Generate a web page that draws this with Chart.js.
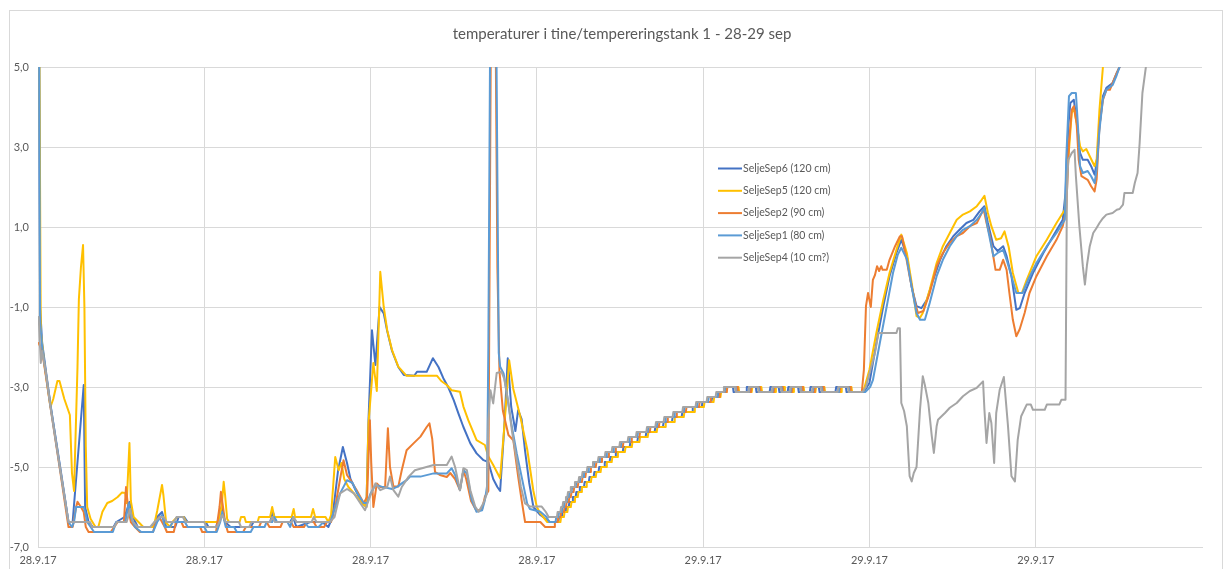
<!DOCTYPE html>
<html>
<head>
<meta charset="utf-8">
<script src="https://cdn.jsdelivr.net/npm/chart.js@4.4.1/dist/chart.umd.min.js"></script>
<style>
  html, body { margin: 0; padding: 0; background: #fff; }
  canvas { display: block; }
</style>
</head>
<body>
<canvas id="chart" width="1224" height="569"></canvas>
<script>
// Tank temperatures, 28.9.17 08:00 onwards. Each reading: [minutes since start, °C]
const xTickLabels = ['28.9.17', '28.9.17', '28.9.17', '28.9.17', '29.9.17', '29.9.17', '29.9.17'];
const seriesNames = ['SeljeSep6 (120 cm)', 'SeljeSep5 (120 cm)', 'SeljeSep2 (90 cm)', 'SeljeSep1 (80 cm)', 'SeljeSep4 (10 cm?)'];
const titleText = 'temperaturer i tine/tempereringstank 1 - 28-29 sep';

const sep6 = [[1,9],[3,-1],[6,-1.9],[18,-3.45],[32,-5],[44,-6.375],[50,-6.375],[66,-2.95],[68,-6],[73,-6.375],[79,-6.5],[109,-6.5],[113,-6.375],[125,-6.25],[132,-5.875],[137,-6.25],[144,-6.5],[165,-6.5],[172,-6.25],[179,-6.125],[185,-6.5],[198,-6.5],[203,-6.25],[211,-6.25],[216,-6.375],[242,-6.375],[246,-6.5],[257,-6.5],[265,-6],[270,-6.375],[278,-6.5],[307,-6.5],[311,-6.375],[335,-6.375],[339,-6.125],[344,-6.375],[364,-6.375],[368,-6.25],[373,-6.5],[393,-6.375],[410,-6.375],[419,-6.5],[425,-6.25],
[433,-5.1],[440,-4.5],[446,-4.9],[451,-5.3],[459,-5.6],[468,-5.9],[474,-6],[477,-3.83],[482,-1.58],[487,-2.45],[493,-1],[499,-1.16],[504,-1.6],[511,-2.1],[520,-2.5],[528,-2.7],[543,-2.72],[547,-2.62],[561,-2.62],[570,-2.28],[578,-2.5],[585,-2.78],[592,-3],[600,-3.33],[607,-3.67],[614,-4],[624,-4.41],[633,-4.66],[643,-4.83],[650,-4.88],[657,-5.3],[663,-5.5],[667,-5.6],[673,-4],[678,-2.28],[683,-3.5],[689,-4.1],[693,-3.58],[698,-3.8],[703,-4.6],[709,-5.4],[715,-6],[725,-6.2],[739,-6.375],
[751,-6.375],[752,-6.25],[756,-6.25],[757,-6.125],[761,-6.125],[762,-6],[766,-6],[767,-5.875],[771,-5.875],[772,-5.75],[776,-5.75],[777,-5.625],[781,-5.625],[782,-5.5],[788,-5.5],[789,-5.375],[795,-5.375],[796,-5.25],[802,-5.25],[803,-5.125],[809,-5.125],[810,-5],[817,-5],[818,-4.875],[825,-4.875],[826,-4.75],[833,-4.75],[834,-4.625],[844,-4.625],[845,-4.5],[854,-4.5],[855,-4.375],[865,-4.375],[866,-4.25],[877,-4.25],[878,-4.125],[890,-4.125],[891,-4],[902,-4],[903,-3.875],[915,-3.875],[916,-3.75],[929,-3.75],[930,-3.625],[944,-3.625],[945,-3.5],[958,-3.5],[959,-3.375],[972,-3.375],[973,-3.25],[982,-3.25],[983,-3.125],[990,-3.125],[991,-3],
[1003,-3],[1004,-3.125],[1022,-3.125],[1023,-3],[1036,-3],[1037,-3.125],[1056,-3.125],[1057,-3],[1069,-3],[1070,-3.125],[1082,-3.125],[1083,-3],[1097,-3],[1098,-3.125],[1114,-3.125],[1115,-3],[1127,-3],[1128,-3.125],[1151,-3.125],[1152,-3],[1166,-3],[1167,-3.125],[1192,-3.125],
[1200,-2.9],[1210,-1.9],[1220,-0.98],[1229,-0.23],[1239,0.35],[1246,0.68],[1254,0.27],[1261,-0.5],[1268,-0.98],[1275,-1.03],[1283,-0.82],[1292,-0.32],[1302,0.18],[1311,0.52],[1321,0.77],[1330,0.93],[1340,1.1],[1350,1.18],[1359,1.39],[1366,1.52],[1371,1.1],[1379,0.52],[1385,0.4],[1393,0.52],[1398,0.27],[1405,-0.23],[1412,-1.07],[1417,-1.03],[1424,-0.65],[1436,-0.15],[1451,0.35],[1465,0.77],[1479,1.18],[1483,1.85],[1487,3.52],[1490,4.1],[1495,4.18],[1499,3.68],[1504,2.85],[1508,2.68],[1515,2.68],[1520,2.52],[1525,2.31],[1528,2.6],[1532,3.52],[1537,4.27],[1542,4.48],[1551,4.6],[1557,4.85],[1561,5],[1568,5.6]];

const sep5 = [[1,9],[4,-1.6],[9,-2.4],[18,-3.5],[22,-3.3],[28,-2.85],[31,-2.85],[38,-3.3],[46,-3.7],[49,-5.15],[52,-5.6],[57,-2.5],[59,-0.8],[62,0],[65,0.55],[67,-1],[69,-4.5],[71,-6],[76,-6.3],[83,-6.5],[87,-6.5],[93,-6.12],[100,-5.9],[107,-5.85],[115,-5.75],[121,-5.64],[126,-5.65],[128,-5.9],[132,-4.4],[134,-5.85],[138,-6.25],[145,-6.375],[152,-6.5],[167,-6.5],[172,-6.1],[179,-5.45],[181,-5.7],[185,-6.4],[191,-6.5],[194,-6.375],[201,-6.25],[210,-6.25],[214,-6.375],[260,-6.375],[265,-6],[268,-5.37],[270,-5.7],[273,-6.3],[276,-6.375],[291,-6.375],[293,-6.25],[298,-6.25],[300,-6.375],[317,-6.375],[319,-6.25],[335,-6.25],[338,-6],[341,-6.25],[366,-6.25],[369,-6.05],[371,-6.25],[394,-6.25],[397,-6.05],[400,-6.25],[415,-6.25],[419,-6.375],[423,-6.2],
[429,-4.75],[434,-5.08],[438,-4.9],[442,-5.3],[448,-5.5],[458,-5.7],[468,-5.9],[474,-6],[477,-3.9],[484,-2.4],[489,-3.1],[494,-0.12],[499,-1],[504,-1.58],[511,-2.08],[520,-2.49],[532,-2.72],[576,-2.72],[582,-2.85],[590,-2.95],[597,-3.08],[609,-3.12],[614,-3.49],[621,-3.83],[633,-4.33],[645,-4.45],[650,-4.74],[657,-4.95],[667,-5.28],[673,-4],[680,-2.33],[686,-3.05],[696,-3.73],[706,-4.55],[715,-5.6],[720,-6],[725,-6.16],[735,-6.375],
[754,-6.375],[755,-6.25],[759,-6.25],[760,-6.125],[764,-6.125],[765,-6],[769,-6],[770,-5.875],[774,-5.875],[775,-5.75],[779,-5.75],[780,-5.625],[784,-5.625],[785,-5.5],[791,-5.5],[792,-5.375],[798,-5.375],[799,-5.25],[805,-5.25],[806,-5.125],[812,-5.125],[813,-5],[820,-5],[821,-4.875],[828,-4.875],[829,-4.75],[836,-4.75],[837,-4.625],[847,-4.625],[848,-4.5],[857,-4.5],[858,-4.375],[868,-4.375],[869,-4.25],[880,-4.25],[881,-4.125],[893,-4.125],[894,-4],[905,-4],[906,-3.875],[918,-3.875],[919,-3.75],[932,-3.75],[933,-3.625],[947,-3.625],[948,-3.5],[961,-3.5],[962,-3.375],[975,-3.375],[976,-3.25],[985,-3.25],[986,-3.125],[993,-3.125],[994,-3],
[1011,-3],[1012,-3.125],[1030,-3.125],[1031,-3],[1044,-3],[1045,-3.125],[1064,-3.125],[1065,-3],[1077,-3],[1078,-3.125],[1090,-3.125],[1091,-3],[1105,-3],[1106,-3.125],[1122,-3.125],[1123,-3],[1135,-3],[1136,-3.125],[1159,-3.125],[1160,-3],[1174,-3],[1175,-3.125],[1191,-3.125],
[1200,-2.57],[1210,-1.65],[1220,-0.82],[1229,-0.15],[1239,0.43],[1246,0.81],[1254,0.35],[1261,-0.4],[1268,-1.23],[1273,-1.27],[1277,-1.15],[1287,-0.57],[1297,0.1],[1306,0.52],[1316,0.85],[1326,1.18],[1335,1.31],[1345,1.39],[1355,1.52],[1362,1.68],[1366,1.78],[1371,1.35],[1376,1.02],[1383,0.68],[1390,0.72],[1395,0.89],[1401,0.5],[1407,-0.15],[1415,-0.65],[1420,-0.65],[1427,-0.32],[1441,0.27],[1456,0.68],[1470,1.1],[1482,1.43],[1487,2.68],[1492,3.85],[1495,3.98],[1499,3.6],[1504,3.02],[1508,2.89],[1513,2.95],[1518,2.77],[1525,2.52],[1528,2.7],[1532,3.93],[1537,5],[1544,6.2]];

const sep2 = [[1,-1.9],[6,-2.1],[18,-3.5],[32,-5.1],[44,-6.5],[50,-6.5],[55,-6],[57,-5.87],[62,-6],[66,-6.125],[69,-6.5],[73,-6.625],[105,-6.625],[110,-6.5],[115,-6.375],[124,-6.375],[127,-5.5],[130,-6],[134,-6.375],[140,-6.5],[147,-6.625],[166,-6.625],[170,-6.375],[175,-6.25],[179,-6.375],[183,-6.5],[186,-6.625],[196,-6.625],[199,-6.375],[207,-6.375],[210,-6.5],[234,-6.5],[237,-6.625],[257,-6.625],[262,-6],[264,-5.62],[267,-6],[270,-6.375],[274,-6.625],[296,-6.625],[300,-6.5],[319,-6.5],[322,-6.375],[330,-6.375],[334,-6.5],[350,-6.5],[353,-6.375],[365,-6.375],[369,-6.5],[384,-6.5],[388,-6.375],[398,-6.375],[402,-6.5],[413,-6.5],[417,-6.375],[423,-6.375],
[430,-5.9],[436,-5.3],[441,-4.83],[446,-5.2],[451,-5.33],[460,-5.58],[470,-5.9],[475,-5.75],[479,-3.83],[481,-4.9],[484,-6],[489,-5.41],[494,-5.5],[501,-5.5],[505,-4.03],[508,-5],[513,-5.49],[520,-5.49],[525,-5.08],[532,-4.58],[542,-4.41],[552,-4.24],[561,-4],[565,-3.91],[569,-4.3],[573,-5.12],[580,-5.2],[590,-5.25],[595,-5.15],[602,-5.3],[609,-5.58],[614,-5.08],[618,-5.3],[625,-5.85],[633,-6.1],[641,-6.05],[645,-5.74],[650,-5.6],[654,7],[660,7],[663,0],[666,-2.6],[671,-3.6],[679,-4.2],[686,-4.33],[693,-5.24],[698,-5.83],[703,-6.375],[725,-6.375],[732,-6.5],[745,-6.5],
[746,-6.375],[750,-6.375],[751,-6.25],[754,-6.25],[755,-6.125],[759,-6.125],[760,-6],[762,-6],[763,-5.875],[766,-5.875],[767,-5.75],[769,-5.75],[770,-5.625],[773,-5.625],[774,-5.5],[779,-5.5],[780,-5.375],[785,-5.375],[786,-5.25],[790,-5.25],[791,-5.125],[797,-5.125],[798,-5],[805,-5],[806,-4.875],[813,-4.875],[814,-4.75],[823,-4.75],[824,-4.625],[833,-4.625],[834,-4.5],[844,-4.5],[845,-4.375],[856,-4.375],[857,-4.25],[868,-4.25],[869,-4.125],[883,-4.125],[884,-4],[896,-4],[897,-3.875],[908,-3.875],[909,-3.75],[921,-3.75],[922,-3.625],[935,-3.625],[936,-3.5],[954,-3.5],[955,-3.375],[970,-3.375],[971,-3.25],[983,-3.25],[984,-3.125],[994,-3.125],[995,-3],
[1009,-3],[1010,-3.125],[1028,-3.125],[1029,-3],[1042,-3],[1043,-3.125],[1062,-3.125],[1063,-3],[1075,-3],[1076,-3.125],[1088,-3.125],[1089,-3],[1103,-3],[1104,-3.125],[1120,-3.125],[1121,-3],[1133,-3],[1134,-3.125],[1157,-3.125],[1158,-3],[1172,-3],[1173,-3.125],[1189,-3.125],
[1192,-2.57],[1195,-0.98],[1198,-0.65],[1202,-1],[1205,-0.32],[1208,-0.2],[1211,0.02],[1214,-0.1],[1217,0.02],[1219,-0.07],[1225,-0.07],[1229,0.18],[1237,0.52],[1244,0.77],[1247,0.77],[1251,0.43],[1258,-0.23],[1266,-0.9],[1270,-1.15],[1278,-1.1],[1287,-0.65],[1297,0.02],[1306,0.35],[1316,0.6],[1326,0.77],[1335,0.85],[1345,1.02],[1355,1.1],[1362,1.35],[1365,1.43],[1369,1.1],[1374,0.77],[1378,0.35],[1382,-0.07],[1388,-0.07],[1393,0.18],[1398,-0.07],[1402,-0.65],[1407,-1.32],[1412,-1.73],[1417,-1.55],[1424,-1.15],[1431,-0.65],[1441,-0.23],[1456,0.27],[1470,0.68],[1479,1.02],[1484,1.43],[1488,3.1],[1492,3.93],[1495,4.02],[1499,3.6],[1502,2.68],[1506,2.27],[1515,2.18],[1520,2.02],[1525,1.89],[1528,2.2],[1532,3.52],[1537,4.18],[1542,4.43],[1547,4.43],[1551,4.6],[1557,4.85],[1561,5],[1568,5.6]];

const sep1 = [[1,9],[3,-1.4],[6,-2],[18,-3.45],[32,-5.05],[44,-6.375],[49,-6.5],[52,-6.375],[55,-6],[66,-6],[68,-6.125],[71,-6.375],[76,-6.5],[81,-6.625],[108,-6.625],[113,-6.375],[126,-6.375],[131,-5.9],[134,-6.25],[140,-6.5],[149,-6.625],[166,-6.625],[172,-6.375],[179,-6.2],[183,-6.5],[190,-6.5],[195,-6.375],[212,-6.375],[216,-6.5],[240,-6.5],[244,-6.625],[258,-6.625],[263,-6.375],[266,-6.125],[271,-6.5],[283,-6.5],[287,-6.625],[307,-6.625],[311,-6.5],[327,-6.5],[330,-6.375],[338,-6.375],[341,-6.25],[345,-6.375],[360,-6.375],[364,-6.5],[368,-6.25],[373,-6.375],[385,-6.375],[390,-6.5],[405,-6.5],[412,-6.375],[422,-6.375],
[429,-6],[436,-5.66],[446,-5.33],[454,-5.4],[461,-5.66],[470,-5.9],[475,-5.9],[480,-5.66],[487,-5.45],[496,-5.49],[511,-5.55],[519,-5.49],[525,-5.41],[532,-5.33],[537,-5.24],[552,-5.24],[571,-5.16],[590,-5.16],[597,-5.03],[602,-5.2],[609,-5.58],[614,-5.08],[619,-5.16],[626,-5.83],[633,-6.12],[641,-6.08],[645,-5.83],[648,-5.49],[650,-2],[653,7],[661,7],[663,2.3],[665,-2.15],[667,-2.49],[672,-2.66],[677,-3.2],[683,-3.9],[691,-4.66],[701,-5.49],[706,-5.91],[710,-6.05],[725,-6.12],[734,-6.25],[738,-6.375],
[747,-6.375],[748,-6.25],[751,-6.25],[752,-6.125],[756,-6.125],[757,-6],[759,-6],[760,-5.875],[763,-5.875],[764,-5.75],[766,-5.75],[767,-5.625],[770,-5.625],[771,-5.5],[776,-5.5],[777,-5.375],[782,-5.375],[783,-5.25],[787,-5.25],[788,-5.125],[794,-5.125],[795,-5],[802,-5],[803,-4.875],[810,-4.875],[811,-4.75],[820,-4.75],[821,-4.625],[830,-4.625],[831,-4.5],[841,-4.5],[842,-4.375],[853,-4.375],[854,-4.25],[865,-4.25],[866,-4.125],[880,-4.125],[881,-4],[893,-4],[894,-3.875],[905,-3.875],[906,-3.75],[918,-3.75],[919,-3.625],[932,-3.625],[933,-3.5],[951,-3.5],[952,-3.375],[967,-3.375],[968,-3.25],[980,-3.25],[981,-3.125],[991,-3.125],[992,-3],
[1007,-3],[1008,-3.125],[1026,-3.125],[1027,-3],[1040,-3],[1041,-3.125],[1060,-3.125],[1061,-3],[1073,-3],[1074,-3.125],[1086,-3.125],[1087,-3],[1101,-3],[1102,-3.125],[1118,-3.125],[1119,-3],[1131,-3],[1132,-3.125],[1155,-3.125],[1156,-3],[1170,-3],[1171,-3.125],[1194,-3.125],
[1201,-3],[1205,-2.83],[1215,-1.9],[1225,-0.98],[1234,-0.15],[1241,0.31],[1246,0.48],[1254,0.2],[1261,-0.5],[1268,-1.15],[1273,-1.32],[1280,-1.32],[1287,-0.9],[1297,-0.23],[1306,0.18],[1316,0.52],[1326,0.77],[1335,0.93],[1345,1.02],[1355,1.18],[1362,1.35],[1366,1.48],[1371,0.95],[1379,0.27],[1385,0.35],[1393,0.43],[1398,0.18],[1405,-0.23],[1412,-0.65],[1421,-0.65],[1429,-0.32],[1441,0.1],[1456,0.52],[1470,0.85],[1482,1.18],[1484,2.68],[1488,4.27],[1492,4.35],[1498,4.35],[1501,3.52],[1504,2.52],[1508,2.35],[1515,2.4],[1520,2.27],[1525,2.1],[1528,2.45],[1532,3.43],[1537,4.2],[1542,4.43],[1551,4.55],[1557,4.8],[1561,5],[1568,5.6]];

const sep4 = [[1,-1.25],[4,-2.4],[6,-2.1],[11,-2.6],[18,-3.5],[32,-5.05],[44,-6.375],[75,-6.375],[78,-6.5],[110,-6.5],[114,-6.375],[128,-6.375],[133,-6.05],[137,-6.375],[144,-6.5],[162,-6.5],[168,-6.375],[176,-6.25],[181,-6.25],[186,-6.375],[196,-6.375],[200,-6.25],[209,-6.25],[213,-6.375],[240,-6.375],[243,-6.5],[258,-6.5],[262,-6.375],[266,-6.2],[271,-6.375],[290,-6.375],[293,-6.5],[305,-6.5],[308,-6.375],[335,-6.375],[338,-6.25],[342,-6.375],[366,-6.375],[369,-6.25],[373,-6.375],[395,-6.375],[398,-6.25],[402,-6.375],[421,-6.375],
[428,-6.25],[436,-5.66],[446,-5.55],[456,-5.66],[465,-5.9],[472,-6.08],[480,-5.7],[487,-5.41],[494,-5.58],[504,-5.5],[508,-5.24],[513,-5.58],[520,-5.74],[525,-5.5],[535,-5.24],[544,-5.08],[571,-4.95],[590,-4.95],[597,-4.74],[602,-5],[609,-5.58],[614,-5.03],[619,-5.08],[624,-5.58],[631,-5.99],[636,-6.12],[643,-5.9],[648,-5.66],[650,-3.83],[653,-3.08],[657,-3.41],[662,-2.65],[669,-2.62],[673,-2.8],[679,-3.41],[684,-4.1],[691,-4.83],[697,-5.5],[703,-5.91],[710,-5.99],[727,-5.99],[733,-6.125],[737,-6.25],
[749,-6.25],[750,-6.125],[754,-6.125],[755,-6],[757,-6],[758,-5.875],[761,-5.875],[762,-5.75],[764,-5.75],[765,-5.625],[768,-5.625],[769,-5.5],[774,-5.5],[775,-5.375],[780,-5.375],[781,-5.25],[785,-5.25],[786,-5.125],[792,-5.125],[793,-5],[800,-5],[801,-4.875],[808,-4.875],[809,-4.75],[818,-4.75],[819,-4.625],[828,-4.625],[829,-4.5],[839,-4.5],[840,-4.375],[851,-4.375],[852,-4.25],[863,-4.25],[864,-4.125],[878,-4.125],[879,-4],[891,-4],[892,-3.875],[903,-3.875],[904,-3.75],[916,-3.75],[917,-3.625],[930,-3.625],[931,-3.5],[949,-3.5],[950,-3.375],[965,-3.375],[966,-3.25],[978,-3.25],[979,-3.125],[989,-3.125],[990,-3],
[1006,-3],[1007,-3.125],[1025,-3.125],[1026,-3],[1039,-3],[1040,-3.125],[1059,-3.125],[1060,-3],[1072,-3],[1073,-3.125],[1085,-3.125],[1086,-3],[1100,-3],[1101,-3.125],[1117,-3.125],[1118,-3],[1130,-3],[1131,-3.125],[1154,-3.125],[1155,-3],[1169,-3],[1170,-3.125],[1190,-3.125],
[1195,-3],[1201,-2.6],[1208,-2.15],[1213,-1.65],[1239,-1.65],[1241,-1.53],[1244,-1.53],[1246,-3.4],[1250,-3.6],[1254,-3.98],[1258,-5.23],[1261,-5.36],[1264,-5.15],[1268,-5],[1273,-3.57],[1277,-2.73],[1280,-2.95],[1285,-3.4],[1290,-4.23],[1293,-4.65],[1297,-3.98],[1299,-3.82],[1303,-3.75],[1309,-3.65],[1316,-3.52],[1326,-3.4],[1335,-3.23],[1345,-3.1],[1355,-3.02],[1364,-2.86],[1366,-3.57],[1369,-4.4],[1373,-3.65],[1376,-3.9],[1380,-4.9],[1383,-3.65],[1388,-3.07],[1394,-2.75],[1400,-3.98],[1405,-5.23],[1410,-5.36],[1414,-4.32],[1419,-3.73],[1427,-3.44],[1433,-3.44],[1436,-3.57],[1453,-3.57],[1456,-3.44],[1474,-3.44],[1477,-3.32],[1483,-3.32],[1485,1.85],[1487,2.68],[1492,2.85],[1496,2.93],[1498,2.27],[1503,1.02],[1508,0.02],[1511,-0.44],[1514,0.05],[1518,0.52],[1523,0.85],[1528,0.98],[1532,1.1],[1537,1.22],[1542,1.31],[1551,1.35],[1557,1.43],[1561,1.45],[1566,1.56],[1568,1.85],[1580,1.85],[1583,2.1],[1587,2.35],[1590,3.1],[1594,4.35],[1599,5],[1604,5.6]];

const seriesData = [sep6, sep5, sep2, sep1, sep4];
const seriesColors = ['#4472C4', '#FFC000', '#ED7D31', '#5B9BD5', '#A5A5A5'];

const FONT = 'Lato, "Noto Sans", sans-serif';
const TEXT = '#595959';
const GRID = '#d9d9d9';

// white page, outer frame and title
const chrome = {
  id: 'chrome',
  beforeDraw(chart) {
    const { ctx, width, height, chartArea } = chart;
    ctx.save();
    ctx.fillStyle = '#fff';
    ctx.fillRect(0, 0, width, height);
    ctx.strokeStyle = GRID;
    ctx.lineWidth = 1;
    ctx.strokeRect(9.5, 10.5, width - 11, height - 5);
    ctx.fillStyle = TEXT;
    ctx.font = '15px ' + FONT;
    ctx.textAlign = 'center';
    ctx.textBaseline = 'middle';
    ctx.fillText(titleText, (chartArea.left + chartArea.right) / 2 + 2, 34);
    ctx.restore();
  }
};

// legend drawn inside the plot
const insideLegend = {
  id: 'insideLegend',
  afterDraw(chart) {
    const ctx = chart.ctx;
    ctx.save();
    ctx.font = '10.5px ' + FONT;
    ctx.fillStyle = TEXT;
    ctx.textAlign = 'left';
    ctx.textBaseline = 'middle';
    chart.data.datasets.forEach((ds, i) => {
      const y = 168.5 + i * 22.3;
      ctx.strokeStyle = ds.borderColor;
      ctx.lineWidth = 2;
      ctx.beginPath();
      ctx.moveTo(718, y);
      ctx.lineTo(742, y);
      ctx.stroke();
      ctx.fillText(ds.label, 743, y);
    });
    ctx.restore();
  }
};

new Chart(document.getElementById('chart'), {
  type: 'line',
  data: {
    datasets: seriesData.map((d, i) => ({
      label: seriesNames[i],
      data: d,
      borderColor: seriesColors[i],
      backgroundColor: seriesColors[i],
      borderWidth: 2,
      pointRadius: 0,
      tension: 0,
      borderJoinStyle: 'round',
      borderCapStyle: 'round',
      order: seriesData.length - i
    }))
  },
  options: {
    responsive: false,
    animation: false,
    devicePixelRatio: 1,
    layout: { padding: { top: 67, right: 22, left: 0, bottom: 0 } },
    plugins: {
      legend: { display: false },
      title: { display: false },
      tooltip: { enabled: false }
    },
    scales: {
      x: {
        type: 'linear',
        min: 0,
        max: 1680,
        afterFit(scale) { scale.height = 22; },
        ticks: {
          stepSize: 240,
          autoSkip: false,
          maxRotation: 0,
          padding: 7,
          color: TEXT,
          font: { family: FONT, size: 11 },
          callback: (v, i) => (xTickLabels[i] !== undefined ? xTickLabels[i] : '')
        },
        grid: {
          color: c => (c.tick && c.tick.value >= 1680 ? 'rgba(0,0,0,0)' : GRID),
          drawTicks: false
        },
        border: { display: true, color: GRID }
      },
      y: {
        min: -7,
        max: 5,
        afterFit(scale) { scale.width = 38; },
        ticks: {
          stepSize: 2,
          padding: 9,
          color: TEXT,
          font: { family: FONT, size: 11 },
          callback: v => v.toFixed(1).replace('.', ',')
        },
        grid: { color: GRID, drawTicks: false },
        border: { display: false }
      }
    }
  },
  plugins: [chrome, insideLegend]
});
</script>
</body>
</html>
